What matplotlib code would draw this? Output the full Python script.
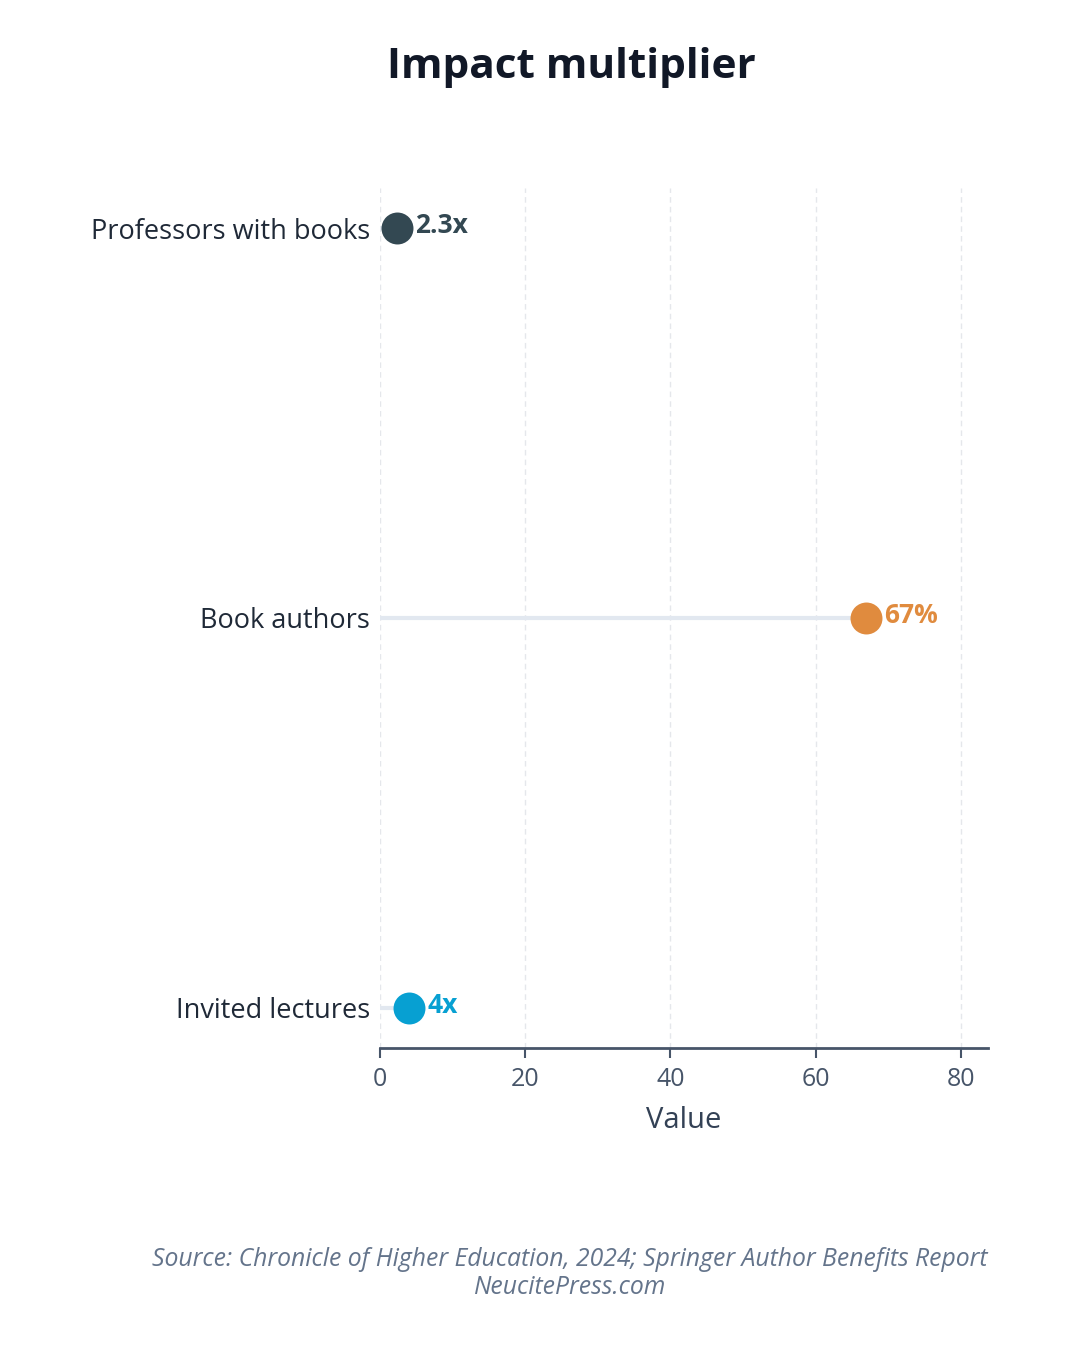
import matplotlib
matplotlib.use("Agg")
import matplotlib.pyplot as plt

categories = ["Professors with books", "Book authors", "Invited lectures"]
values = [2.3, 67, 4]
value_labels = ["2.3x", "67%", "4x"]
colors = ["#334852", "#e08b3e", "#07a0d2"]
x_ticks = [0, 20, 40, 60, 80]

plt.rcParams['font.family'] = ['Open Sans', 'DejaVu Sans']

fig = plt.figure(figsize=(10.8, 13.5), dpi=100)
ax = fig.add_axes([380/1080, 1 - 1048/1350, (988-380)/1080, (1048-188)/1350])

n = len(categories)
ypos = [n - 1 - i for i in range(n)]

for y, v, c, lab in zip(ypos, values, colors, value_labels):
    ax.plot([0, v], [y, y], color="#e2e8f0", lw=3, solid_capstyle="butt", zorder=1)
    ax.plot([v], [y], "o", ms=23, color=c, mec="none", zorder=3)
    ax.annotate(lab, (v, y), xytext=(13, 2), textcoords="offset points",
                ha="left", va="center", fontsize=19, fontweight="bold", color=c, zorder=4)

ax.set_xlim(0, max(values) * 1.25)
ax.set_ylim(-0.103, n - 1 + 0.103)
ax.set_yticks(ypos)
ax.set_yticklabels(categories, fontsize=19.5, color="#1f2937")
ax.set_xticks(x_ticks)
ax.set_xticklabels([str(t) for t in x_ticks], fontsize=18, color="#475569")
ax.tick_params(axis="y", length=0, pad=7)
ax.tick_params(axis="x", length=7, width=1.5, color="#475569", pad=7)
ax.grid(axis="x", color="#e5e7eb", lw=1, ls=(0, (4, 3)))
ax.set_axisbelow(True)
for s in ["top", "right", "left"]:
    ax.spines[s].set_visible(False)
ax.spines["bottom"].set_color("#475569")
ax.spines["bottom"].set_linewidth(2)
ax.set_xlabel("Value", fontsize=21, color="#334155", labelpad=10)

fig.text(571/1080, 1 - 68/1350, "Impact multiplier", ha="center", va="center",
         fontsize=30.5, fontweight="bold", color="#111827")
fig.text(570/1080, 1 - 1259/1350, "Source: Chronicle of Higher Education, 2024; Springer Author Benefits Report",
         ha="center", va="center", fontsize=17.8, style="italic", color="#64748b")
fig.text(570/1080, 1 - 1288/1350, "NeucitePress.com",
         ha="center", va="center", fontsize=17.8, style="italic", color="#64748b")

fig.savefig("out.png", dpi=100, facecolor="white")
